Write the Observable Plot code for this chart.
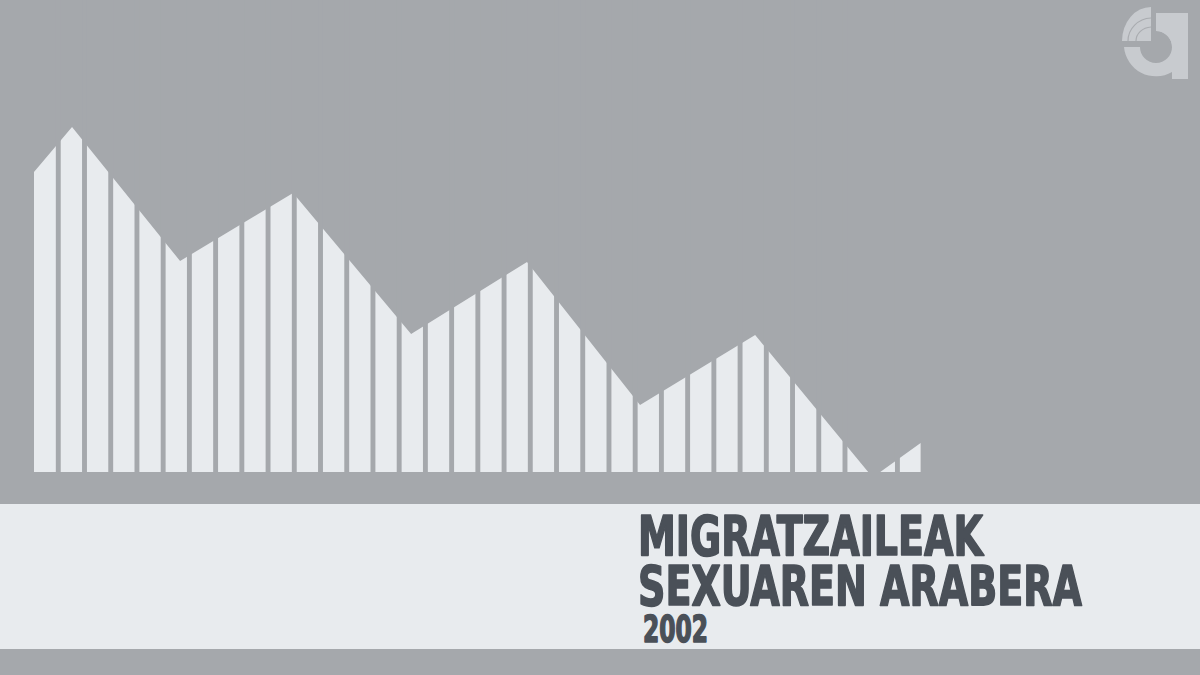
<!DOCTYPE html>
<html>
<head>
<meta charset="utf-8">
<script src="https://cdn.jsdelivr.net/npm/d3@7"></script>
<script src="https://cdn.jsdelivr.net/npm/@observablehq/plot@0.6"></script>
<style>
  html, body { margin: 0; padding: 0; background: #a5a8ac; }
  #wrap { position: relative; width: 1200px; height: 675px; overflow: hidden; background: #a5a8ac; }
  #band { position: absolute; left: 0; top: 504px; width: 1200px; height: 145px; background: #e8ebee; }
  #logo { position: absolute; left: 1110px; top: 0; }
  #chart { position: absolute; left: 0; top: 0; }
  #titles { position: absolute; left: 0; top: 0; }
</style>
</head>
<body>
<div id="wrap">
  <div id="chart"></div>
  <div id="band"></div>
  <svg id="logo" width="90" height="90" viewBox="1110 0 90 90">
    <path fill="#c8cbcf" fill-rule="evenodd"
      d="M1156,13 L1172,13 L1172,47 L1188,47 L1188,79 L1172,79 L1172,72 A32,32 0 0 1 1124,47 L1140,47 A16,16 0 1 0 1156,31 Z"/>
    <path fill="#c8cbcf" d="M1172,13 L1188,13 L1188,47 L1172,47 Z"/>
    <path fill="#c8cbcf" d="M1156,13 A34,34 0 0 1 1188,47 L1172,47 A16,16 0 0 0 1156,31 Z"/>
    <path fill="#c8cbcf" d="M1151,7 L1151,41 L1122,41 A29,34 0 0 1 1151,7 Z"/>
    <path fill="none" stroke="#a9acb0" stroke-width="1.2" d="M1151,18 A24,23 0 0 0 1128,41"/>
    <path fill="none" stroke="#a9acb0" stroke-width="1.2" d="M1151,27 A16,14 0 0 0 1136,41"/>
  </svg>
  <svg id="titles" width="1200" height="675">
    <g fill="#4a5058" stroke="#4a5058" stroke-width="1.6" stroke-linejoin="round"
       font-family="'DejaVu Sans Condensed', 'DejaVu Sans', sans-serif" font-weight="bold">
      <text class="fit" data-x="638" data-y="555" data-w="345" font-size="55">MIGRATZAILEAK</text>
      <text class="fit" data-x="638" data-y="605" data-w="444" font-size="55">SEXUAREN ARABERA</text>
      <text class="fit" data-x="643" data-y="641.5" data-w="65" font-size="37">2002</text>
    </g>
  </svg>
</div>
<script>
// Outline of the migrants profile (x in bar units, value in chart units)
const positions = [0, 1.45, 5.57, 9.88, 14.38, 18.80, 23.11, 27.50, 31.81, 32.27, 33.81];
const values    = [300, 345, 211, 279, 138, 210, 67, 137, 0, 0, 29];
const barCount  = 34;
const barFraction = 0.813;

const profile = positions.map((p, i) => ({x: p, v: values[i]}));
const gaps = d3.range(barCount - 1).map(i => i + barFraction + (1 - barFraction) / 2);

const bg = "#a5a8ac";
const chart = Plot.plot({
  width: 1200,
  height: 504,
  marginLeft: 34,
  marginRight: 279.3,
  marginTop: 0,
  marginBottom: 32,
  x: {domain: [0, barCount - 1 + barFraction], axis: null},
  y: {domain: [0, 472], axis: null},
  style: {background: bg},
  marks: [
    Plot.areaY(profile, {x: "x", y: "v", fill: "#e8ebee", curve: "linear"}),
    Plot.ruleX(gaps, {x: d => d, stroke: bg, strokeWidth: 4.9})
  ]
});
document.getElementById("chart").appendChild(chart);

// fit title lines horizontally to their measured widths
document.querySelectorAll("text.fit").forEach(t => {
  const w = t.getComputedTextLength();
  const sx = (+t.dataset.w) / w;
  t.setAttribute("transform", `translate(${t.dataset.x},${t.dataset.y}) scale(${sx},1)`);
});
</script>
</body>
</html>
